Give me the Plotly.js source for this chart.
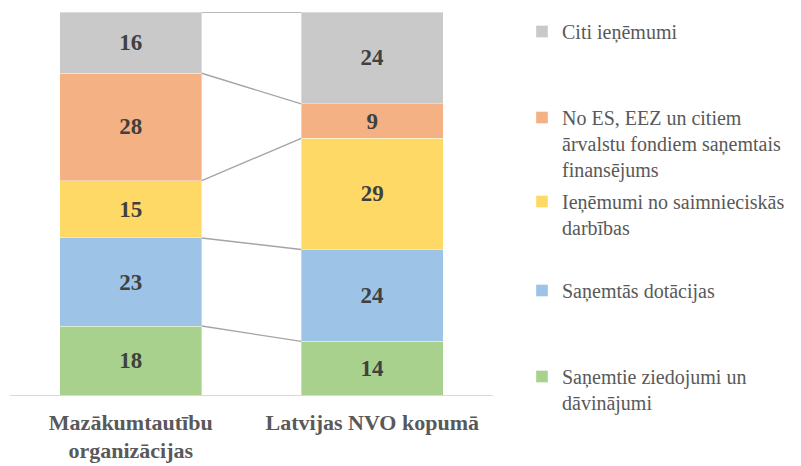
<!DOCTYPE html>
<html>
<head>
<meta charset="utf-8">
<script src="https://cdn.plot.ly/plotly-3.0.1.min.js"></script>
<style>html,body{margin:0;padding:0;background:#fff;}#chart{width:801px;height:466px;}</style>
</head>
<body>
<div id="chart"></div>
<script>
// ---- data ----
const categories = ["Mazākumtautību organizācijas", "Latvijas NVO kopumā"];
const tickLabels = ["Mazākumtautību<br>organizācijas", "Latvijas NVO kopumā"];
const seriesNames = [
  "Saņemtie ziedojumi un<br>dāvinājumi",
  "Saņemtās dotācijas",
  "Ieņēmumi no saimnieciskās<br>darbības",
  "No ES, EEZ un citiem<br>ārvalstu fondiem saņemtais<br>finansējums",
  "Citi ieņēmumi"
];
const ziedojumi = [18, 14];
const dotacijas = [23, 24];
const saimnieciska = [15, 29];
const arvalstu = [28, 9];
const citi = [16, 24];

// ---- styles ----
const seriesValues = [ziedojumi, dotacijas, saimnieciska, arvalstu, citi];
const colors = ["#a9d18e", "#9dc3e6", "#ffd966", "#f4b183", "#c9c9c9"];
const legendIds = ["legend5", "legend4", "legend3", "legend2", "legend"];
const legendTops = [357, 271, 182, 98, 12]; // pixel tops of legend blocks
const barWidth = 0.588;
const serif = "Liberation Serif, Noto Serif, Times New Roman, serif";

const xIdx = categories.map((c, i) => i);
const traces = [];
seriesValues.forEach((vals, s) => {
  traces.push({
    type: "bar",
    x: xIdx,
    y: vals,
    name: seriesNames[s],
    legend: legendIds[s],
    marker: {color: colors[s], line: {color: "rgba(255,255,255,0.6)", width: 0.6}},
    width: barWidth,
    text: vals.map(String),
    textposition: "inside",
    insidetextanchor: "middle",
    textangle: 0,
    constraintext: "none",
    textfont: {family: serif, size: 23, color: "#404040", weight: "bold"},
    hoverinfo: "skip"
  });
});

// series lines connecting boundaries between bars
const cum = categories.map(() => 0);
seriesValues.forEach((vals) => {
  vals.forEach((v, i) => { cum[i] += v; });
  traces.push({
    type: "scatter",
    mode: "lines",
    x: [xIdx[0] + barWidth / 2, xIdx[1] - barWidth / 2],
    y: [cum[0], cum[1]],
    line: {color: "#a5a5a5", width: 1.4},
    showlegend: false,
    hoverinfo: "skip"
  });
});

const plotTop = 12, plotBottom = 395, plotLeft = 10, plotRight = 493;
function legendCfg(topPx) {
  return {
    x: (522 - plotLeft) / (plotRight - plotLeft),
    xanchor: "left",
    y: (plotBottom - topPx) / (plotBottom - plotTop),
    yanchor: "top",
    bgcolor: "rgba(0,0,0,0)",
    borderwidth: 0,
    valign: "top",
    font: {family: serif, size: 20, color: "#595959"},
    itemclick: false,
    itemdoubleclick: false
  };
}

const layout = {
  width: 801,
  height: 466,
  margin: {l: plotLeft, r: 801 - plotRight, t: plotTop, b: 466 - plotBottom, pad: 0},
  paper_bgcolor: "#ffffff",
  plot_bgcolor: "#ffffff",
  barmode: "stack",
  showlegend: true,
  font: {family: serif},
  xaxis: {
    range: [-0.5, 1.5],
    tickvals: xIdx,
    ticktext: tickLabels,
    tickfont: {family: serif, size: 22, color: "#595959", weight: "bold"},
    ticklabelstandoff: 7,
    showline: true,
    linecolor: "#d9d9d9",
    linewidth: 1.3,
    showgrid: false,
    zeroline: false,
    ticks: "",
    fixedrange: true
  },
  yaxis: {
    range: [0, 100],
    visible: false,
    fixedrange: true
  }
};
legendIds.forEach((id, s) => { layout[id] = legendCfg(legendTops[s]); });

Plotly.newPlot("chart", traces, layout, {displayModeBar: false, staticPlot: true});
</script>
</body>
</html>
